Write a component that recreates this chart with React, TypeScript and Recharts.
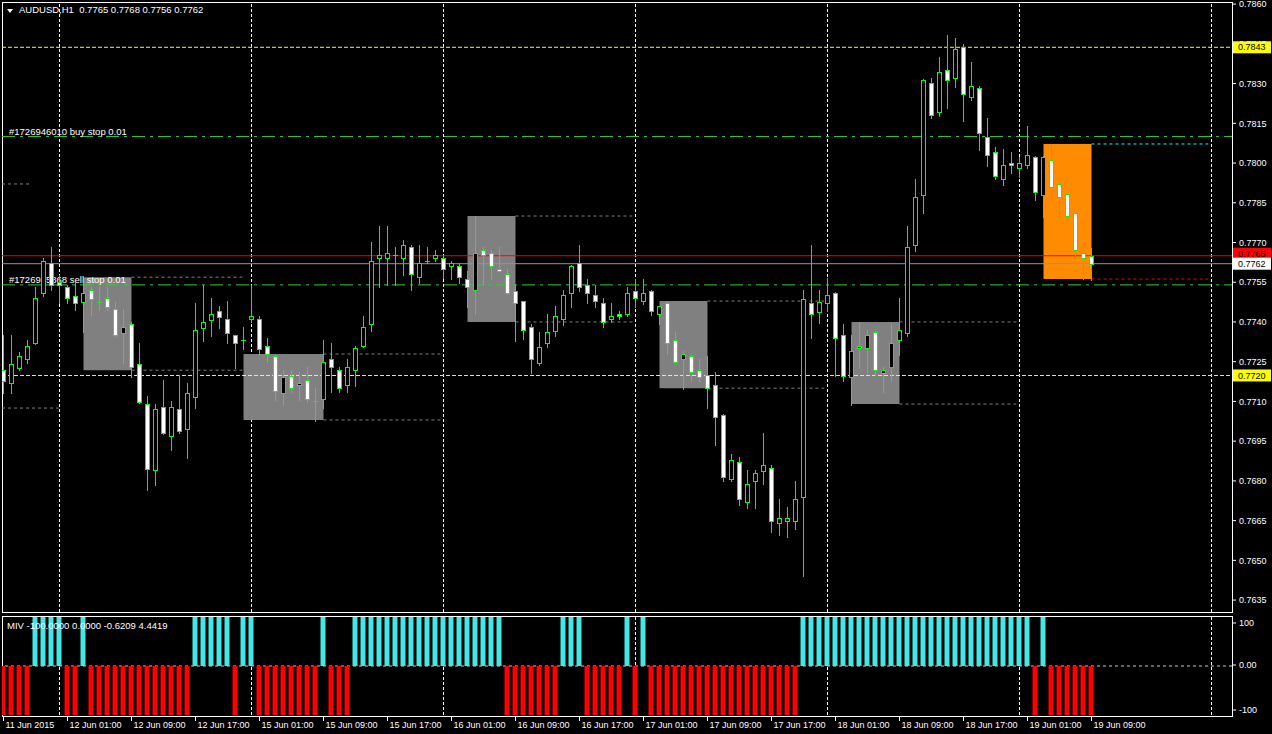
import React from "react";
import { ComposedChart, Bar, XAxis, YAxis, ReferenceLine, ReferenceArea, Cell } from "recharts";

const FONT = "'Liberation Sans', Arial, sans-serif";
const W = 1272;

// AUDUSD H1, 11 Jun 2015 17:00 .. 19 Jun 2015 09:00
const openP = [
  0.77218, 0.77169, 0.77226, 0.7726, 0.7732, 0.77509, 0.77622, 0.77551, 0.77532, 0.77498,
  0.77475, 0.7752, 0.77475, 0.7749, 0.77449, 0.77358, 0.77392, 0.77241, 0.7709, 0.76841,
  0.77079, 0.76969, 0.77071, 0.76996, 0.77116, 0.77377, 0.77407, 0.77441, 0.77411, 0.7735,
  0.77332, 0.77411, 0.77411, 0.77309, 0.77271, 0.77132, 0.77196, 0.77162, 0.77181, 0.77101,
  0.77109, 0.7726, 0.77218, 0.77162, 0.77218, 0.77309, 0.77392, 0.77641, 0.77641, 0.77653,
  0.77641, 0.77683, 0.77569, 0.7763, 0.77641, 0.77641, 0.77611, 0.77611, 0.77562, 0.7752,
  0.77671, 0.7766, 0.776, 0.77581, 0.77517, 0.77479, 0.77381, 0.77245, 0.7732, 0.77366,
  0.77411, 0.77509, 0.77622, 0.77539, 0.77501, 0.77471, 0.77411, 0.7743, 0.7743, 0.77517,
  0.77479, 0.77517, 0.7743, 0.77471, 0.77332, 0.7726, 0.77271, 0.77218, 0.77199, 0.77162,
  0.77049, 0.76807, 0.76871, 0.7672, 0.76799, 0.76837, 0.76848, 0.76641, 0.76648, 0.76648,
  0.76739, 0.77471, 0.77437, 0.77471, 0.77509, 0.7735, 0.77192, 0.77301, 0.77301, 0.77362,
  0.77207, 0.7723, 0.77332, 0.77358, 0.7769, 0.77879, 0.78302, 0.78192, 0.78351, 0.78321,
  0.78438, 0.78249, 0.78283, 0.78098, 0.78041, 0.77939, 0.78, 0.77981, 0.77992, 0.78022,
  0.77879, 0.78011, 0.77921, 0.77883, 0.77811, 0.7766, 0.7765,
];
const highP = [
  0.7735, 0.7735, 0.77286, 0.77332, 0.77532, 0.77641, 0.77683, 0.77577, 0.77539, 0.77551,
  0.77547, 0.77532, 0.77532, 0.77532, 0.77475, 0.77449, 0.774, 0.7732, 0.7712, 0.7709,
  0.77181, 0.77101, 0.77199, 0.77169, 0.77471, 0.77539, 0.7749, 0.7746, 0.77479, 0.77352,
  0.77381, 0.77539, 0.77422, 0.77339, 0.77279, 0.77218, 0.77218, 0.77211, 0.7723, 0.7715,
  0.77332, 0.7732, 0.7723, 0.7726, 0.77309, 0.77422, 0.77702, 0.77762, 0.77762, 0.77683,
  0.77709, 0.7769, 0.7769, 0.77683, 0.77671, 0.77653, 0.7763, 0.77622, 0.77592, 0.778,
  0.77683, 0.77671, 0.77683, 0.776, 0.77539, 0.77481, 0.77392, 0.77362, 0.7743, 0.7746,
  0.7752, 0.77615, 0.7769, 0.77562, 0.77539, 0.7749, 0.77471, 0.77441, 0.77532, 0.77562,
  0.77562, 0.7752, 0.7746, 0.77479, 0.77362, 0.7729, 0.77279, 0.7726, 0.77271, 0.77211,
  0.77052, 0.76901, 0.7689, 0.76841, 0.76841, 0.76981, 0.7686, 0.76731, 0.76701, 0.76799,
  0.7752, 0.7769, 0.7752, 0.77566, 0.77512, 0.77392, 0.7735, 0.774, 0.77369, 0.77365,
  0.7723, 0.77392, 0.7749, 0.77762, 0.77939, 0.78316, 0.78321, 0.784, 0.78483, 0.78472,
  0.78449, 0.78381, 0.7829, 0.7817, 0.7806, 0.78053, 0.78041, 0.78022, 0.78139, 0.78025,
  0.78028, 0.78072, 0.77928, 0.77886, 0.77814, 0.7769, 0.7768,
];
const lowP = [
  0.77132, 0.77132, 0.77218, 0.77245, 0.77316, 0.77498, 0.7752, 0.77471, 0.77471, 0.77445,
  0.77362, 0.77426, 0.77445, 0.77445, 0.77347, 0.77245, 0.77192, 0.77095, 0.76765, 0.76784,
  0.76978, 0.76916, 0.76981, 0.76886, 0.77075, 0.77328, 0.77347, 0.77377, 0.7732, 0.77226,
  0.77298, 0.774, 0.77275, 0.77249, 0.77105, 0.77086, 0.77135, 0.77105, 0.77098, 0.77026,
  0.77075, 0.77135, 0.77135, 0.77135, 0.77158, 0.77305, 0.77366, 0.77532, 0.77539, 0.77539,
  0.77577, 0.7752, 0.77547, 0.77622, 0.7763, 0.77566, 0.77562, 0.77547, 0.77456, 0.7743,
  0.77539, 0.77562, 0.77592, 0.77505, 0.77328, 0.77335, 0.77207, 0.77237, 0.77305, 0.77347,
  0.77388, 0.77456, 0.77517, 0.77471, 0.77456, 0.77381, 0.774, 0.77411, 0.77422, 0.77456,
  0.77468, 0.77426, 0.77392, 0.77279, 0.77241, 0.77147, 0.77177, 0.77177, 0.77075, 0.76935,
  0.76799, 0.76799, 0.76709, 0.76697, 0.76697, 0.76788, 0.76607, 0.76596, 0.76588, 0.76618,
  0.76441, 0.77339, 0.77396, 0.77441, 0.77196, 0.77177, 0.77086, 0.77226, 0.77207, 0.77199,
  0.77135, 0.77177, 0.77275, 0.77347, 0.77668, 0.77811, 0.7817, 0.78177, 0.78207, 0.78287,
  0.78158, 0.78238, 0.78049, 0.77988, 0.77939, 0.77917, 0.77962, 0.77947, 0.77981, 0.7786,
  0.77796, 0.77871, 0.77796, 0.77777, 0.77622, 0.77562, 0.7756,
];
const closeP = [
  0.77177, 0.77241, 0.77271, 0.77309, 0.7749, 0.7763, 0.77539, 0.77539, 0.7749, 0.77471,
  0.77509, 0.77486, 0.77475, 0.77456, 0.7735, 0.77381, 0.7723, 0.77098, 0.76845, 0.77071,
  0.76981, 0.77079, 0.76988, 0.77132, 0.77369, 0.774, 0.7743, 0.77418, 0.77358, 0.7732,
  0.77332, 0.77422, 0.77298, 0.77279, 0.77139, 0.77192, 0.7715, 0.77169, 0.77109, 0.77101,
  0.77249, 0.7723, 0.7715, 0.7723, 0.77301, 0.77381, 0.7763, 0.77653, 0.7766, 0.77653,
  0.7769, 0.77581, 0.77622, 0.7763, 0.77653, 0.776, 0.77622, 0.77569, 0.77532, 0.7766,
  0.77653, 0.77611, 0.77592, 0.77509, 0.77471, 0.77369, 0.7726, 0.77305, 0.77362, 0.77422,
  0.77501, 0.77611, 0.77532, 0.77509, 0.77479, 0.774, 0.77422, 0.77422, 0.77509, 0.7749,
  0.77509, 0.77441, 0.7746, 0.7732, 0.77249, 0.77279, 0.77211, 0.77192, 0.7715, 0.77041,
  0.76814, 0.76879, 0.76731, 0.76788, 0.7683, 0.7686, 0.76648, 0.7666, 0.7666, 0.76731,
  0.77486, 0.7743, 0.77475, 0.77501, 0.77339, 0.77196, 0.7729, 0.77309, 0.7735, 0.77218,
  0.77218, 0.7732, 0.77369, 0.77683, 0.77871, 0.78313, 0.78181, 0.78343, 0.78313, 0.7843,
  0.7826, 0.7829, 0.78113, 0.7803, 0.77951, 0.77992, 0.77992, 0.78, 0.7803, 0.7789,
  0.78022, 0.77909, 0.77871, 0.778, 0.77671, 0.77641, 0.7762,
];

// MIV indicator, one value per bar
const miv = [
  -100, -100, -100, -100, 100, 100, 100, 100, -100, -100,
  100, -100, -100, -100, -100, -100, -100, -100, -100, -100,
  -100, -100, -100, -100, 100, 100, 100, 100, 100, -100,
  100, 100, -100, -100, -100, -100, -100, -100, -100, -100,
  100, -100, -100, -100, 100, 100, 100, 100, 100, 100,
  100, 100, 100, 100, 100, 100, 100, 100, 100, 100,
  100, 100, 100, -100, -100, -100, -100, -100, -100, -100,
  100, 100, 100, -100, -100, -100, -100, -100, 100, -100,
  100, -100, -100, -100, -100, -100, -100, -100, -100, -100,
  -100, -100, -100, -100, -100, -100, -100, -100, -100, -100,
  100, 100, 100, 100, 100, 100, 100, 100, 100, 100,
  100, 100, 100, 100, 100, 100, 100, 100, 100, 100,
  100, 100, 100, 100, 100, 100, 100, 100, 100, -100,
  100, -100, -100, -100, -100, -100, -100,
];

const tickBars = [0, 8, 16, 24, 32, 40, 48, 56, 64, 72, 80, 88, 96, 104, 112, 120, 128, 136];
const tickLabels = [
  "11 Jun 2015", "12 Jun 01:00", "12 Jun 09:00", "12 Jun 17:00", "15 Jun 01:00", "15 Jun 09:00",
  "15 Jun 17:00", "16 Jun 01:00", "16 Jun 09:00", "16 Jun 17:00", "17 Jun 01:00", "17 Jun 09:00",
  "17 Jun 17:00", "18 Jun 01:00", "18 Jun 09:00", "18 Jun 17:00", "19 Jun 01:00", "19 Jun 09:00",
];
const dayStarts = [7, 31, 55, 79, 103, 127, 151];
const priceTicks = [
  0.7635, 0.765, 0.7665, 0.768, 0.7695, 0.771, 0.7725, 0.774, 0.7755, 0.777, 0.7785, 0.78, 0.7815,
  0.783, 0.7845, 0.786,
];
const mivTicks = [100, 0, -100];

// session boxes
const boxStart = [10, 30, 58, 82, 106, 130];
const boxEnd = [16, 40, 64, 88, 112, 136];
const boxTop = [0.77569, 0.77279, 0.778, 0.77479, 0.774, 0.78072];
const boxBottom = [0.77218, 0.7703, 0.774, 0.7715, 0.7709, 0.77562];
const boxLineEnd = [30, 54.6, 78.6, 102.6, 126.6, 150.6];
const priorLevels = [0.77921, 0.77075];
const priorEnd = [3.3, 6.9];

const pendingPrices = [0.781, 0.7754];
const pendingLabels = ["#1726946010 buy stop 0.01", "#1726945868 sell stop 0.01"];
const yellowLevels = [0.78437, 0.77198];
const yellowTags = ["0.7843", "0.7720"];
const redLevel = 0.7765;
const bidLevel = 0.7762;

const X_DOMAIN: [number, number] = [-0.1875, 153.5625];
const PRICE_DOMAIN: [number, number] = [0.76305, 0.78608];

const rows = openP.map((o, i) => ({
  i,
  o,
  h: highP[i],
  l: lowP[i],
  c: closeP[i],
  range: [lowP[i], highP[i]],
}));
const mivRows = miv.map((v, i) => ({ i, v }));

const LIME = "#00FF00";

function Candle(props: any) {
  const { x, y, width, height, payload } = props;
  if (!payload || x == null || y == null) return null;
  const cx = Math.floor(x + width / 2) + 0.5;
  const top = Math.min(y, y + height);
  const bottom = Math.max(y, y + height);
  const span = payload.h - payload.l || 1e-9;
  const py = (p: number) => top + ((payload.h - p) / span) * (bottom - top);
  const bTop = Math.round(py(Math.max(payload.o, payload.c))) + 0.5;
  const bBot = Math.round(py(Math.min(payload.o, payload.c))) + 0.5;
  const up = payload.c > payload.o;
  return (
    <g shapeRendering="crispEdges">
      <line x1={cx} x2={cx} y1={Math.round(top)} y2={Math.round(bottom) + 1} stroke={LIME} />
      {bBot - bTop < 1 ? (
        <line x1={cx - 2.5} x2={cx + 2.5} y1={bTop} y2={bTop} stroke={LIME} />
      ) : (
        <rect x={cx - 2} y={bTop} width={4} height={bBot - bTop} fill={up ? "#000" : "#fff"} stroke={LIME} />
      )}
    </g>
  );
}

function PriceTag(props: any) {
  const { viewBox, text, bg, dy = 0 } = props;
  if (!viewBox) return null;
  const x = viewBox.x + viewBox.width;
  const y = viewBox.y + dy;
  return (
    <g>
      <rect x={x + 1} y={y - 6} width={38} height={12} fill={bg} />
      <text x={x + 6} y={y} dy="0.35em" fontSize={9} fontFamily={FONT} fill="#000">
        {text}
      </text>
    </g>
  );
}

function LineText(props: any) {
  const { viewBox, text } = props;
  if (!viewBox) return null;
  return (
    <text x={viewBox.x + 7} y={viewBox.y - 2} fontSize={9.5} fontFamily={FONT} fill="#fff">
      {text}
    </text>
  );
}

function TimeTick(props: any) {
  const { x, y, payload } = props;
  const label = tickLabels[tickBars.indexOf(payload.value)];
  return (
    <g>
      <line x1={x} x2={x} y1={y + 2} y2={y + 6} stroke="#fff" />
      <text x={x + 2} y={y + 10} dy="0.35em" fontSize={9} fontFamily={FONT} fill="#fff">
        {label}
      </text>
    </g>
  );
}

function MivTick(props: any) {
  const { x, y, payload } = props;
  const v = payload.value;
  const yy = v > 0 ? y + 6 : v < 0 ? y - 5 : y - 1;
  return (
    <g>
      <line x1={x - 7} x2={x - 3} y1={yy} y2={yy} stroke="#fff" />
      <text x={x} y={yy} dy="0.35em" fontSize={9} fontFamily={FONT} fill="#fff">
        {v === 0 ? "0.00" : String(v)}
      </text>
    </g>
  );
}

const layer: React.CSSProperties = { position: "absolute", left: 0 };

export default function App() {
  const mainMarginAxis = { top: 2, right: 0, bottom: 2, left: 2 };
  const mainMarginPlain = { top: 2, right: 40, bottom: 2, left: 2 };
  return (
    <div style={{ position: "relative", width: W, height: 734, background: "#000", overflow: "hidden", fontFamily: FONT }}>
      <style>{"body{margin:0;background:#000}"}</style>
      {/* frames */}
      <div style={{ position: "absolute", left: 2, top: 2, width: 1231, height: 611, border: "1px solid #fff", boxSizing: "border-box" }} />
      <div style={{ position: "absolute", left: 2, top: 616, width: 1231, height: 101, border: "1px solid #fff", boxSizing: "border-box" }} />

      {/* main: grid + price axis */}
      <div style={{ ...layer, top: 0 }}>
        <ComposedChart width={W} height={614} data={rows} margin={mainMarginAxis}>
          <XAxis dataKey="i" type="number" domain={X_DOMAIN} allowDataOverflow hide />
          <YAxis
            orientation="right"
            width={40}
            type="number"
            domain={PRICE_DOMAIN}
            allowDataOverflow
            ticks={priceTicks}
            interval={0}
            axisLine={false}
            tickSize={4}
            tickMargin={3}
            tickLine={{ stroke: "#fff" }}
            tick={{ fill: "#fff", fontSize: 9, fontFamily: FONT }}
            tickFormatter={(v: number) => v.toFixed(4)}
          />
          {dayStarts.map((d) => (
            <ReferenceLine key={"g" + d} x={d} stroke="#fff" strokeDasharray="3 2" />
          ))}
        </ComposedChart>
      </div>

      {/* main: boxes, levels, order lines */}
      <div style={{ ...layer, top: 0 }}>
        <ComposedChart width={W} height={614} data={rows} margin={mainMarginPlain}>
          <XAxis dataKey="i" type="number" domain={X_DOMAIN} allowDataOverflow hide />
          <YAxis type="number" domain={PRICE_DOMAIN} allowDataOverflow hide />
          {boxStart.map((s, k) => (
            <ReferenceArea
              key={"b" + k}
              x1={s}
              x2={boxEnd[k]}
              y1={boxBottom[k]}
              y2={boxTop[k]}
              fill={k === boxStart.length - 1 ? "#FF8C00" : "#808080"}
              fillOpacity={1}
              stroke="none"
            />
          ))}
          {boxStart.map((s, k) => (
            <ReferenceLine
              key={"bt" + k}
              segment={[{ x: boxEnd[k], y: boxTop[k] }, { x: boxLineEnd[k], y: boxTop[k] }]}
              stroke={k === boxStart.length - 1 ? "#00FFFF" : "#808080"}
              strokeDasharray="3 3"
            />
          ))}
          {boxStart.map((s, k) => (
            <ReferenceLine
              key={"bb" + k}
              segment={[{ x: boxEnd[k], y: boxBottom[k] }, { x: boxLineEnd[k], y: boxBottom[k] }]}
              stroke={k === boxStart.length - 1 ? "#FF0000" : "#808080"}
              strokeDasharray="3 3"
            />
          ))}
          {priorLevels.map((p, k) => (
            <ReferenceLine
              key={"pl" + k}
              segment={[{ x: X_DOMAIN[0], y: p }, { x: priorEnd[k], y: p }]}
              stroke="#808080"
              strokeDasharray="3 3"
            />
          ))}
          {yellowLevels.map((p) => (
            <ReferenceLine key={"y" + p} y={p} stroke="#FFFF00" strokeDasharray="4 2" />
          ))}
          {pendingPrices.map((p, k) => (
            <ReferenceLine
              key={"o" + p}
              y={p}
              stroke="#32CD32"
              strokeDasharray="13 5 3 5"
              label={<LineText text={pendingLabels[k]} />}
            />
          ))}
          <ReferenceLine y={redLevel} stroke="#FF0000" />
          <ReferenceLine y={bidLevel} stroke="#8C96A0" />
        </ComposedChart>
      </div>

      {/* main: candles + price tags */}
      <div style={{ ...layer, top: 0 }}>
        <ComposedChart width={W} height={614} data={rows} margin={mainMarginPlain}>
          <XAxis dataKey="i" type="number" domain={X_DOMAIN} allowDataOverflow hide />
          <YAxis type="number" domain={PRICE_DOMAIN} allowDataOverflow hide />
          <Bar dataKey="range" shape={Candle} barSize={7} isAnimationActive={false} />
          {yellowLevels.map((p, k) => (
            <ReferenceLine key={"yt" + p} y={p} strokeOpacity={0} label={<PriceTag text={yellowTags[k]} bg="#FFFF00" />} />
          ))}
          <ReferenceLine y={redLevel} strokeOpacity={0} label={<PriceTag text="0.7765" bg="#FF0000" dy={-2} />} />
          <ReferenceLine y={bidLevel} strokeOpacity={0} label={<PriceTag text="0.7762" bg="#FFFFFF" />} />
        </ComposedChart>
      </div>

      {/* indicator: grid + axes */}
      <div style={{ ...layer, top: 612 }}>
        <ComposedChart width={W} height={122} data={mivRows} margin={{ top: 5, right: 0, bottom: 0, left: 2 }}>
          <XAxis
            dataKey="i"
            type="number"
            domain={X_DOMAIN}
            allowDataOverflow
            height={19}
            ticks={tickBars}
            interval={0}
            axisLine={false}
            tickLine={false}
            tickSize={0}
            tickMargin={0}
            tick={<TimeTick />}
          />
          <YAxis
            orientation="right"
            width={40}
            type="number"
            domain={[-100, 100]}
            allowDataOverflow
            ticks={mivTicks}
            interval={0}
            axisLine={false}
            tickLine={false}
            tickSize={4}
            tickMargin={3}
            tick={<MivTick />}
          />
          {dayStarts.map((d) => (
            <ReferenceLine key={"ig" + d} x={d} stroke="#fff" strokeDasharray="3 2" />
          ))}
          <ReferenceLine y={0} stroke="#C8C8C8" strokeDasharray="3 3" />
        </ComposedChart>
      </div>

      {/* indicator: bars */}
      <div style={{ ...layer, top: 612 }}>
        <ComposedChart width={W} height={122} data={mivRows} margin={{ top: 5, right: 40, bottom: 19, left: 2 }}>
          <XAxis dataKey="i" type="number" domain={X_DOMAIN} allowDataOverflow hide />
          <YAxis type="number" domain={[-100, 100]} allowDataOverflow hide />
          <Bar dataKey="v" barSize={5} isAnimationActive={false}>
            {mivRows.map((r) => (
              <Cell key={r.i} fill={r.v > 0 ? "#40E8E8" : "#FF0000"} />
            ))}
          </Bar>
        </ComposedChart>
      </div>

      {/* captions */}
      <div
        style={{
          position: "absolute",
          left: 7,
          top: 9,
          width: 0,
          height: 0,
          borderLeft: "3px solid transparent",
          borderRight: "3px solid transparent",
          borderTop: "4px solid #fff",
        }}
      />
      <div style={{ position: "absolute", left: 19, top: 4, fontSize: 9.5, lineHeight: "12px", color: "#fff", whiteSpace: "pre" }}>
        {"AUDUSD,H1  0.7765 0.7768 0.7756 0.7762"}
      </div>
      <div style={{ position: "absolute", left: 7, top: 620, fontSize: 9.5, lineHeight: "12px", color: "#fff", whiteSpace: "pre" }}>
        {"MIV -100.0000 0.0000 -0.6209 4.4419"}
      </div>
    </div>
  );
}
